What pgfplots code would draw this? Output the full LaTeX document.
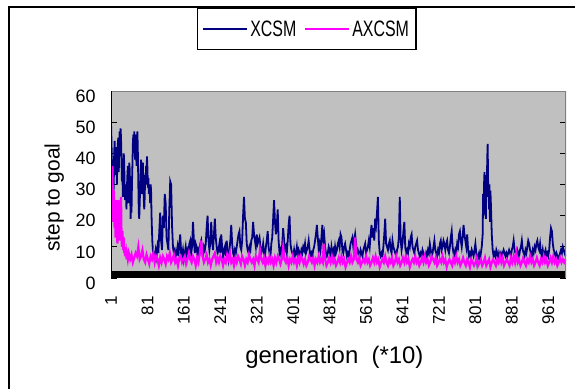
\documentclass[border=0pt]{standalone}
\usepackage{pgfplots}
\pgfplotsset{compat=1.18}
\usepackage{fontspec}
\setmainfont{Liberation Sans}
\definecolor{xcsm}{RGB}{0,0,128}
\definecolor{axcsm}{RGB}{255,0,255}
\definecolor{plotgray}{RGB}{192,192,192}
\definecolor{bordergray}{RGB}{128,128,128}

\pgfplotstableread{
x y
1 50
2 44
3 37
4 28
5 33
6 25
7 30
8 40
9 44
10 36
11 33
12 39
13 42
14 30
15 38
16 43
17 45
18 34
19 40
20 47
21 44
22 48
23 45
24 38
25 31
26 35
27 26
28 33
29 40
30 37
31 28
32 25
33 30
34 26
35 22
36 29
37 33
38 36
39 30
40 24
41 37
42 35
43 29
44 19
45 24
46 21
47 30
48 36
49 43
50 46
51 40
52 47
53 44
54 38
55 46
56 42
57 36
58 45
59 47
60 40
61 30
62 21
63 19
64 24
65 29
66 33
67 38
68 31
69 27
70 35
71 37
72 30
73 25
74 22
75 26
76 33
77 30
78 36
79 33
80 39
81 35
82 29
83 32
84 27
85 30
86 28
87 24
88 30
89 28
90 20
91 15
92 11
93 9
94 8
95 8
97 7
99 9
101 7
103 10
105 8
107 15
109 21
111 12
113 9
115 20
117 16
119 27
121 24
123 13
125 11
127 9
129 22
131 31
133 30
135 17
137 10
139 8
141 9
143 7
145 8
147 10
149 7
151 11
153 14
155 8
157 7
159 9
161 6
163 8
165 10
167 7
169 9
171 8
173 11
175 12
177 8
179 10
181 18
183 12
185 8
187 11
189 10
191 7
193 9
195 8
197 11
199 12
201 8
203 7
205 10
207 9
209 11
211 16
213 20
215 12
217 9
219 11
221 18
223 12
225 9
227 14
229 19
231 13
233 10
235 8
237 9
239 11
241 8
243 14
245 10
247 7
249 9
251 10
253 7
255 12
257 8
259 6
261 9
263 12
265 17
267 11
269 8
271 7
273 9
275 8
277 10
279 12
281 14
283 15
285 10
287 9
289 12
291 20
293 26
295 19
297 18
299 11
301 9
303 8
305 10
307 9
309 12
311 13
313 18
315 14
317 12
319 10
321 14
323 11
325 12
327 13
329 10
331 8
333 9
335 11
337 8
339 7
341 10
343 12
345 15
347 10
349 8
351 7
353 11
355 13
357 19
359 25
361 18
363 14
365 17
367 22
369 12
371 8
373 9
375 7
377 11
379 16
381 12
383 9
385 10
387 8
389 12
391 17
393 20
395 11
397 9
399 8
401 7
403 9
405 7
407 8
409 10
411 7
413 9
415 8
417 7
419 9
421 8
423 10
425 9
427 11
429 8
431 9
433 10
435 12
437 9
439 7
441 8
443 7
445 9
447 10
449 12
451 14
453 17
455 13
457 9
459 11
461 9
463 13
465 17
467 12
469 14
471 10
473 8
475 7
477 8
479 10
481 9
483 7
485 10
487 8
489 9
491 7
493 10
495 8
497 9
499 11
501 12
503 10
505 14
507 13
509 9
511 8
513 10
515 11
517 9
519 7
521 8
523 7
525 9
527 11
529 12
531 13
533 10
535 12
537 14
539 11
541 8
543 9
545 8
547 7
549 9
551 8
553 7
555 9
557 10
559 11
561 8
563 9
565 10
567 12
569 10
571 14
573 17
575 13
577 16
579 12
581 19
583 17
585 21
587 26
589 12
591 8
593 7
595 8
597 7
599 10
601 14
603 19
605 11
607 10
609 9
611 11
613 12
615 9
617 8
619 12
621 10
623 9
625 8
627 7
629 9
631 10
633 13
635 26
637 12
639 9
641 11
643 15
645 18
647 10
649 8
651 9
653 8
655 11
657 10
659 13
661 14
663 10
665 9
667 8
669 10
671 11
673 12
675 9
677 8
679 7
681 8
683 7
685 9
687 8
689 7
691 6
693 8
695 7
697 9
699 8
701 11
703 9
705 7
707 8
709 10
711 12
713 9
715 8
717 7
719 9
721 8
723 11
725 12
727 9
729 10
731 12
733 11
735 9
737 11
739 12
741 9
743 8
745 10
747 13
749 15
751 10
753 8
755 7
757 9
759 8
761 11
763 10
765 14
767 15
769 12
771 10
773 13
775 17
777 14
779 12
781 10
783 14
785 9
787 7
789 8
791 7
793 9
795 8
797 7
799 9
801 11
803 8
805 5
807 7
809 8
811 6
813 8
815 10
817 14
818 27
819 20
820 30
821 34
822 23
823 31
824 19
825 33
826 26
827 38
828 43
829 30
830 29
831 22
832 30
833 18
834 28
835 24
836 19
837 14
839 9
841 7
843 8
845 7
847 9
849 8
851 6
853 8
855 7
857 8
859 7
861 8
863 9
865 8
867 7
869 8
871 7
873 8
875 9
877 8
879 7
881 9
883 10
885 12
887 9
889 8
891 7
893 9
895 8
897 7
899 9
901 10
903 12
905 9
907 8
909 7
911 9
913 8
915 10
917 12
919 11
921 9
923 8
925 7
927 9
929 8
931 10
933 9
935 11
937 12
939 10
941 9
943 11
945 8
947 7
949 9
951 7
953 8
955 9
957 7
959 8
961 7
963 9
965 13
967 16
969 15
971 11
973 9
975 8
977 7
979 8
981 7
983 6
985 7
987 8
989 9
991 8
993 10
995 9
997 8
999 7
}\xcsmdata

\pgfplotstableread{
x y
1 33
2 22
3 30
4 36
5 26
6 18
7 28
8 22
9 16
10 24
11 13
12 20
13 25
14 22
15 11
16 17
17 25
18 24
19 21
20 12
21 18
22 23
23 26
24 14
25 10
26 15
27 12
28 9
29 13
30 8
31 10
32 7
33 8
34 9
35 6
36 8
37 7
38 6
40 8
43 6
46 7.5
49 5
52 6.5
55 8
58 7
61 10
64 6
67 7
70 9
73 6
76 5
79 7.5
82 6
85 4.5
88 7
91 6
94 8
97 5
100 7
103 6
106 4
109 6.5
112 5
115 7
118 6
121 4.5
124 7
127 6
130 8
133 5
136 6
139 7.5
142 5
145 6
148 4
151 6.5
154 7
157 5
160 6
163 7
166 4.5
169 6
172 8
175 6
178 5
181 7
184 6
187 4
190 6.5
193 5
196 8
199 12
202 7
205 5
208 6
211 7.5
214 5
217 6
220 4
223 6
226 7
229 8
232 5
235 6.5
238 5
241 7
244 6
247 4
250 6
253 5
256 7.5
259 6
262 8
265 5
268 6
271 4
274 6.5
277 5
280 7
283 6
286 4.5
289 7
292 6
295 4
298 6
301 5
304 7.5
307 6
310 5
313 6
316 4
319 7
322 6
325 5
328 9
331 6
334 5
337 6.5
340 4
343 6
346 5
349 7
352 5
355 6
358 4
361 6.5
364 5
367 7
370 6
373 4.5
376 6
379 10
382 6
385 5
388 6.5
391 4
394 6
397 5
400 7
403 5
406 6
409 4
412 6.5
415 5
418 7
421 6
424 4.5
427 6
430 4
433 5
436 7
439 6
442 5
445 6.5
448 4
451 6
454 5
457 7
460 5
463 6
466 5
468 11
471 6
474 4
477 5
480 6.5
483 5
486 7
489 5
492 6
495 4
498 5
501 6.5
504 5
507 7
510 5
513 6
516 3.5
519 5
522 6
525 5
528 7
531 5
534 6
537 13
540 6
543 5
546 6.5
549 4
552 5
555 6
558 5
561 7
564 5
567 6
570 4
573 5
576 6.5
579 5
582 7
585 5
588 6
591 3.5
594 5
597 6
600 5
603 7
606 5
609 4
612 6
615 5
618 6.5
621 4
624 5
627 7
630 5
633 6
636 4
639 5
642 6.5
645 5
648 7
651 5
654 6
657 3.5
660 5
663 6
666 5
669 7
672 5
675 6
678 4
681 5
684 6.5
687 5
690 7
693 5
696 6
699 4
702 5
705 7
708 6
711 5
714 6.5
717 4
720 5
723 6
726 5
729 7
732 5
735 6
738 3.5
741 5
744 6
747 5
750 4
753 6.5
756 5
759 7
762 5
765 6
768 4
771 5
774 6.5
777 5
780 4
783 6
786 5
789 3.5
792 6
795 5
798 4
801 5
804 6.5
807 4
810 5
813 6
816 4
819 5
822 6.5
825 4
828 5
831 6
834 3.5
837 5
840 6
843 5
846 4
849 6
852 5
855 7
858 5
861 6.5
864 4
867 5
870 6
873 5
876 4
879 6.5
882 5
885 7
888 5
891 8
894 5
897 6
900 4
903 5
906 6.5
909 5
912 4
915 6
918 5
921 7
924 5
927 6
930 4
933 5
936 6.5
939 5
942 4
945 6
948 5
951 7
954 5
957 6
960 4
963 5
966 6.5
969 5
972 7
975 5
978 6
981 4
984 5
987 6.5
990 5
993 6
996 5
999 6
}\axcsmdata

\begin{document}
\begin{tikzpicture}[x=1bp,y=1bp]
\useasboundingbox (0,0) rectangle (575,389);
\draw[black, line width=1.5bp] (9,0) -- (9,382) -- (575,382);
\begin{axis}[
  at={(111bp,111bp)}, anchor=south west,
  width=455bp, height=187bp, scale only axis,
  xmin=1, xmax=1000, ymin=0, ymax=60,
  axis background/.style={fill=plotgray},
  axis line style={draw=none},
  ytick={0,10,...,60},
  xtick={1,81,...,961},
  tick align=inside,
  major tick length=6bp,
  ytick style={black, line width=1bp},
  xtick style={draw=none},
  /pgf/number format/assume math mode=true,
  yticklabel style={font=\fontsize{18}{18}\selectfont, yshift=-5bp},
  yticklabel shift=12bp,
  xticklabel style={font=\fontsize{17}{17}\selectfont, rotate=90, anchor=east},
  xticklabel shift=15bp,
  xlabel={generation\ \ (*10)},
  ylabel={step to goal},
  xlabel style={font=\fontsize{24}{24}\selectfont, at={(axis description cs:0.491,-0.422)}, anchor=center},
  ylabel style={font=\fontsize{21}{21}\selectfont, at={(axis description cs:-0.125,0.43)}, anchor=center},
  legend style={at={(0.43,1.33)}, anchor=center, legend columns=2, draw=black, line width=1.2bp, font=\fontsize{16}{16}\selectfont, fill=white, inner xsep=5bp, inner ysep=10bp, /tikz/every even column/.append style={column sep=6bp}},
  legend image code/.code={\draw[#1, line width=2bp] (0bp,0bp) -- (44bp,0bp);},
]
\addplot[xcsm, line width=1.8bp] table[x=x, y=y] {\xcsmdata};
\addplot[axcsm, line width=2.2bp] table[x=x, y=y] {\axcsmdata};
\legend{\scalebox{1}[1.4]{XCSM}, \scalebox{1}[1.4]{AXCSM}}
\fill[black] (axis cs:1,0) rectangle (axis cs:1000,2.1);
\draw[bordergray, line width=1.5bp] (rel axis cs:0,1) -- (rel axis cs:1,1) -- (rel axis cs:1,0);
\draw[black, line width=1.5bp] (rel axis cs:0,0) -- (rel axis cs:0,1);
\end{axis}
\end{tikzpicture}
\end{document}
